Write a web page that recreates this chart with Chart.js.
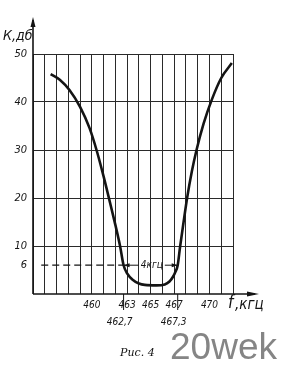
<!DOCTYPE html>
<html>
<head>
<meta charset="utf-8">
<script src="https://cdn.jsdelivr.net/npm/chart.js@4/dist/chart.umd.min.js"></script>
<style>
  html, body { margin: 0; padding: 0; background: #fff; }
  canvas { display: block; }
</style>
</head>
<body>
<canvas id="curveChart" width="289" height="369"></canvas>
<script>
// Resonance curve K(f)
const freqs = [456.5, 457.3, 458.1, 459.0, 459.8, 460.4, 461.0, 461.5, 462.0, 462.4, 462.7,
               463.0, 463.5, 464.0, 464.5, 465.5, 466.2, 466.6, 466.9, 467.1, 467.3,
               467.5, 467.8, 468.1, 468.5, 468.9, 469.5, 470.2, 471.0, 471.9];
const kDb = [45.8, 44.6, 42.5, 39.0, 34.6, 30.0, 24.5, 19.5, 14.4, 10.0, 6.0,
             4.3, 2.9, 2.2, 1.9, 1.8, 2.0, 2.6, 3.6, 4.6, 6.0,
             9.8, 15.0, 20.0, 25.5, 30.0, 35.5, 40.5, 45.0, 48.1];

// axis ticks
const yTicks = [0, 6, 10, 20, 30, 40, 50];
const xLabeled = [460, 463, 465, 467, 470];

// bandwidth at 6 dB
const bandLevel = 6;
const bandEdges = [462.7, 467.3];
const bandText = '4кгц';
const edgeLabels = ['462,7', '467,3'];

const ink = '#141414';
const italic = "'DejaVu Sans Condensed', 'Liberation Sans Narrow', sans-serif";

function arrowHead(ctx, x, y, dx, dy, len, half) {
    // dx,dy unit direction of the tip
    ctx.beginPath();
    ctx.moveTo(x, y);
    ctx.lineTo(x - dx * len - dy * half, y - dy * len + dx * half);
    ctx.lineTo(x - dx * len + dy * half, y - dy * len - dx * half);
    ctx.closePath();
    ctx.fill();
}

const extras = {
    id: 'extras',
    afterDraw(chart) {
        const ctx = chart.ctx;
        const xs = chart.scales.x, ys = chart.scales.y;
        const area = chart.chartArea;
        ctx.save();
        ctx.strokeStyle = ink;
        ctx.fillStyle = ink;

        // axes with arrows
        ctx.lineWidth = 1.6;
        ctx.beginPath();
        ctx.moveTo(area.left, area.bottom);
        ctx.lineTo(area.left, 20);
        ctx.moveTo(area.left, area.bottom);
        ctx.lineTo(255, area.bottom);
        ctx.stroke();
        arrowHead(ctx, area.left, 17, 0, -1, 10, 2.5);
        arrowHead(ctx, 259, area.bottom, 1, 0, 12, 2.5);

        // 4 kHz double arrow
        const yb = ys.getPixelForValue(bandLevel);
        const x1 = xs.getPixelForValue(bandEdges[0]);
        const x2 = xs.getPixelForValue(bandEdges[1]);
        const xm = xs.getPixelForValue(465.1);
        ctx.lineWidth = 1;
        ctx.beginPath();
        ctx.moveTo(x1, yb); ctx.lineTo(xm - 13, yb);
        ctx.moveTo(xm + 13, yb); ctx.lineTo(x2, yb);
        ctx.stroke();
        arrowHead(ctx, x1, yb, -1, 0, 6, 2);
        arrowHead(ctx, x2, yb, 1, 0, 6, 2);
        ctx.font = 'italic 10px ' + italic;
        ctx.textAlign = 'center';
        ctx.textBaseline = 'middle';
        ctx.fillText(bandText, xm, yb);

        // edge labels below the axis
        ctx.lineWidth = 1;
        ctx.font = 'italic 10px ' + italic;
        bandEdges.forEach((f, i) => {
            const x = xs.getPixelForValue(f);
            ctx.beginPath();
            ctx.moveTo(x, area.bottom);
            ctx.lineTo(x, area.bottom + 16);
            ctx.stroke();
            ctx.fillText(edgeLabels[i], x - 4, area.bottom + 28);
        });

        // axis titles
        ctx.textAlign = 'left';
        ctx.font = 'italic 14px ' + italic;
        ctx.fillText('К,дб', 3, 36);
        ctx.font = 'italic 17px ' + italic;
        ctx.fillText('f', 228, area.bottom + 10);
        ctx.font = 'italic 15px ' + italic;
        ctx.fillText(',кгц', 235, area.bottom + 11);

        // caption
        ctx.textBaseline = 'alphabetic';
        ctx.font = "italic 11px 'DejaVu Serif', 'Liberation Serif', serif";
        ctx.fillText('Рис. 4', 120, 356);
        ctx.fillStyle = '#858585';
        ctx.font = "37px 'Liberation Sans', Arial, sans-serif";
        ctx.fillText('20wek', 170, 359);
        ctx.restore();
    }
};

const ctx = document.getElementById('curveChart').getContext('2d');
const curveChart = new Chart(ctx, {
    type: 'line',
    data: {
        datasets: [{
            data: freqs.map((f, i) => ({ x: f, y: kDb[i] })),
            borderColor: ink,
            borderWidth: 2.6,
            pointRadius: 0,
            cubicInterpolationMode: 'monotone',
            fill: false
        }, {
            data: [{ x: 455.7, y: bandLevel }, { x: bandEdges[0], y: bandLevel }],
            borderColor: ink,
            borderWidth: 1.2,
            borderDash: [7, 4],
            pointRadius: 0,
            fill: false
        }]
    },
    options: {
        responsive: false,
        animation: false,
        devicePixelRatio: 1,
        layout: { padding: { top: 54, right: 56, left: 0, bottom: 0 } },
        plugins: {
            legend: { display: false },
            tooltip: { enabled: false }
        },
        scales: {
            x: {
                type: 'linear',
                min: 455,
                max: 472,
                afterFit(scale) { scale.height = 75; },
                ticks: {
                    stepSize: 1,
                    autoSkip: false,
                    maxRotation: 0,
                    padding: 5,
                    color: ink,
                    font: { family: italic, size: 10, style: 'italic' },
                    callback: v => xLabeled.includes(v) ? String(v) : ''
                },
                grid: {
                    color: '#2a2a2a',
                    lineWidth: 1,
                    drawTicks: false
                },
                border: { display: false }
            },
            y: {
                min: 0,
                max: 50,
                afterFit(scale) { scale.width = 33; },
                afterBuildTicks(scale) { scale.ticks = yTicks.map(v => ({ value: v })); },
                ticks: {
                    padding: 6,
                    color: ink,
                    font: { family: italic, size: 11, style: 'italic' },
                    callback: v => v === 0 ? '' : String(v)
                },
                grid: {
                    color: c => (c.tick && (c.tick.value === 0 || c.tick.value === bandLevel)) ? 'rgba(0,0,0,0)' : '#2a2a2a',
                    lineWidth: 1,
                    drawTicks: false
                },
                border: { display: false }
            }
        }
    },
    plugins: [extras]
});
</script>
</body>
</html>
